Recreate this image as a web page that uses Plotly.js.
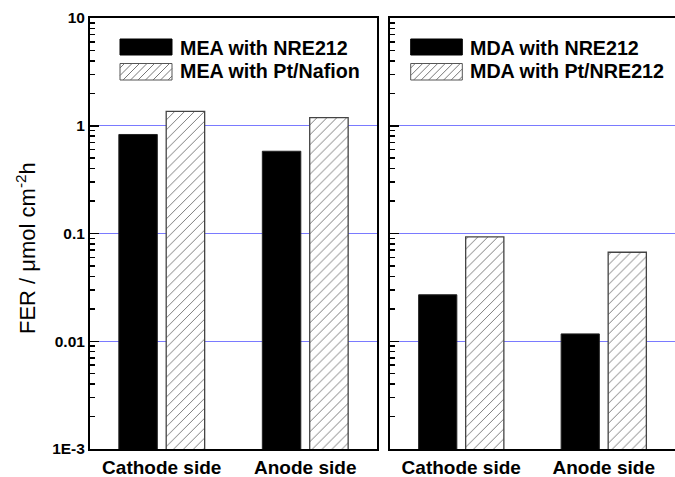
<!DOCTYPE html>
<html>
<head>
<meta charset="utf-8">
<script src="https://cdn.plot.ly/plotly-3.0.1.min.js"></script>
<style>
html,body{margin:0;padding:0;background:#fff;}
#chart{width:675px;height:477px;}
#chart .layer-subplot .shapelayer path,
#chart .layer-below .shapelayer path{shape-rendering:crispEdges;}
</style>
</head>
<body>
<div id="chart"></div>
<script>
// ---- data ----
const categories = ['Cathode side', 'Anode side'];
const meaNre212 = [0.83, 0.58];
const meaPtNafion = [1.36, 1.19];
const mdaNre212 = [0.027, 0.0117];
const mdaPtNre212 = [0.093, 0.067];
const seriesNames = ['MEA with NRE212', 'MEA with Pt/Nafion', 'MDA with NRE212', 'MDA with Pt/NRE212'];
const yTickVals = [0.001, 0.01, 0.1, 1, 10];
const yTickText = ['1E-3', '0.01', '0.1', '1', '10'];

// minor tick positions (2..9 within each decade)
const minorVals = [];
for (let d = -3; d < 1; d++) for (let k = 2; k <= 9; k++) minorVals.push(k * Math.pow(10, d));

const FONT = 'Liberation Sans, Arial, sans-serif';
const GRID = '#7a7aff';
const HATCH = '#666666';
const barW = 0.268;
const solidStyle = {color: '#000000', line: {color: '#222222', width: 1}};
const hatchStyle = {color: '#ffffff', line: {color: '#444444', width: 1.3},
  pattern: {shape: '/', fgcolor: HATCH, bgcolor: '#ffffff', size: 7, solidity: 0.12}};

const traces = [
  {type: 'bar', x: categories, y: meaNre212, name: seriesNames[0], xaxis: 'x', yaxis: 'y',
   width: barW, offset: -0.299, marker: solidStyle, showlegend: false},
  {type: 'bar', x: categories, y: meaPtNafion, name: seriesNames[1], xaxis: 'x', yaxis: 'y',
   width: barW, offset: 0.031, marker: hatchStyle, showlegend: false},
  {type: 'bar', x: categories, y: mdaNre212, name: seriesNames[2], xaxis: 'x2', yaxis: 'y2',
   width: barW, offset: -0.299, marker: solidStyle, showlegend: false},
  {type: 'bar', x: categories, y: mdaPtNre212, name: seriesNames[3], xaxis: 'x2', yaxis: 'y2',
   width: barW, offset: 0.031, marker: hatchStyle, showlegend: false}
];

function yAxis(extra) {
  return Object.assign({
    type: 'log', range: [-3, 1], showline: true, linecolor: '#000', linewidth: 2,
    ticks: 'inside', ticklen: 9, tickwidth: 1.5, tickcolor: '#000',
    tickmode: 'array', tickvals: yTickVals, ticktext: yTickText,
    showgrid: false, zeroline: false,
    minor: {ticks: 'inside', ticklen: 5, tickwidth: 1.5, tickcolor: '#000', tickmode: 'array', tickvals: minorVals, showgrid: false},
    tickfont: {family: FONT, size: 15.5, color: '#000', weight: 'bold'}
  }, extra);
}
function xAxis(extra) {
  return Object.assign({
    type: 'category', range: [-0.5, 1.5], showline: true, linecolor: '#000', linewidth: 2,
    mirror: true, ticks: '', showgrid: false, zeroline: false,
    tickfont: {family: FONT, size: 19, color: '#000', weight: 'bold'}
  }, extra);
}

// ---- geometry helpers: pixel position on the page -> paper fraction ----
const M = {l: 90, r: 0, t: 18, b: 28};
const W = 675, H = 477;
const PW = W - M.l - M.r, PH = H - M.t - M.b;
const px2x = function (px) { return (px - M.l) / PW; };
const px2y = function (py) { return (H - M.b - py) / PH; };

const shapes = [];
const annotations = [];

// blue horizontal gridlines at the interior major ticks, behind the bars
['', '2'].forEach(function (n) {
  yTickVals.slice(1, -1).forEach(function (v) {
    shapes.push({type: 'line', layer: 'below', xref: 'x' + n + ' domain', yref: 'y' + n,
      x0: 0, x1: 1, y0: v, y1: v, line: {color: GRID, width: 1}});
  });
});

// custom legend (wide swatches like the reference)
const legendBlocks = [
  {names: [seriesNames[0], seriesNames[1]], swX0: 120, swX1: 172, textX: 178.3},
  {names: [seriesNames[2], seriesNames[3]], swX0: 410.7, swX1: 462.3, textX: 468.3}
];
const rowBoxes = [[39, 55], [63.5, 80]];
const rowText = [47.5, 71];

function hatchPath(x0, y0, x1, y1, s) {
  const w = x1 - x0, h = y1 - y0;
  let d = '';
  for (let c = s * 0.6; c < w + h; c += s) {
    const ua = Math.max(0, c - h), ub = Math.min(w, c);
    d += 'M' + px2x(x0 + ua) + ',' + px2y(y0 + (c - ua)) + 'L' + px2x(x0 + ub) + ',' + px2y(y0 + (c - ub));
  }
  return d;
}

legendBlocks.forEach(function (b) {
  shapes.push({type: 'rect', xref: 'paper', yref: 'paper', layer: 'above',
    x0: px2x(b.swX0), x1: px2x(b.swX1), y0: px2y(rowBoxes[0][1]), y1: px2y(rowBoxes[0][0]),
    fillcolor: '#000', line: {color: '#000', width: 1}});
  shapes.push({type: 'rect', xref: 'paper', yref: 'paper', layer: 'above',
    x0: px2x(b.swX0), x1: px2x(b.swX1), y0: px2y(rowBoxes[1][1]), y1: px2y(rowBoxes[1][0]),
    fillcolor: '#fff', line: {color: '#555', width: 1}});
  shapes.push({type: 'path', xref: 'paper', yref: 'paper', layer: 'above',
    path: hatchPath(b.swX0, rowBoxes[1][0], b.swX1, rowBoxes[1][1], 7.5),
    line: {color: HATCH, width: 0.9}});
  b.names.forEach(function (nm, i) {
    annotations.push({xref: 'paper', yref: 'paper', x: px2x(b.textX), y: px2y(rowText[i]),
      xanchor: 'left', yanchor: 'middle', showarrow: false, text: '<b>' + nm + '</b>',
      font: {family: FONT, size: 19.7, color: '#000'}});
  });
});

annotations.push({
  xref: 'paper', yref: 'paper', x: px2x(26), y: px2y(248), xanchor: 'center', yanchor: 'middle',
  textangle: -90, showarrow: false,
  text: 'FER / \u03bcmol cm<sup>-2</sup>h',
  font: {family: FONT, size: 22, color: '#000'}
});

const layout = {
  width: W, height: H,
  margin: M,
  paper_bgcolor: '#fff', plot_bgcolor: '#fff',
  showlegend: false, barmode: 'overlay',
  xaxis: xAxis({domain: [0, px2x(377)], anchor: 'y'}),
  xaxis2: xAxis({domain: [px2x(390), 1], anchor: 'y2'}),
  yaxis: yAxis({domain: [0, 1], anchor: 'x', mirror: true}),
  yaxis2: yAxis({domain: [0, 1], anchor: 'x2', showticklabels: false, mirror: false}),
  shapes: shapes,
  annotations: annotations
};

Plotly.newPlot('chart', traces, layout, {displayModeBar: false, staticPlot: true});
</script>
</body>
</html>
